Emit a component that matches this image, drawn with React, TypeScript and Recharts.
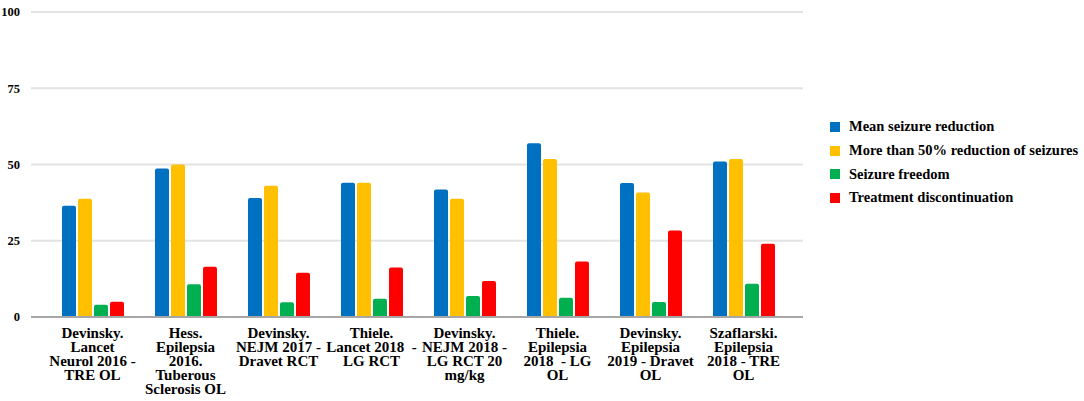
import { BarChart, Bar, XAxis, YAxis, CartesianGrid, Legend } from "recharts"

const studies = [
  "Devinsky.\nLancet\nNeurol 2016 -\nTRE OL",
  "Hess.\nEpilepsia\n2016.\nTuberous\nSclerosis OL",
  "Devinsky.\nNEJM 2017 -\nDravet RCT",
  "Thiele.\nLancet 2018  -\nLG RCT",
  "Devinsky.\nNEJM 2018 -\nLG RCT 20\nmg/kg",
  "Thiele.\nEpilepsia\n2018  - LG\nOL",
  "Devinsky.\nEpilepsia\n2019 - Dravet\nOL",
  "Szaflarski.\nEpilepsia\n2018 - TRE\nOL",
]

const meanReduction = [36.5, 48.7, 39, 44, 41.8, 57, 43.9, 51]
const over50 = [38.8, 50, 43, 44, 38.8, 51.8, 40.8, 51.8]
const seizureFreedom = [4, 10.7, 4.8, 6, 6.9, 6.3, 4.9, 10.9]
const discontinuation = [5, 16.5, 14.5, 16.2, 11.8, 18.2, 28.4, 24]

const yTicks = [0, 25, 50, 75, 100]

const series = [
  { key: "mean", name: "Mean seizure reduction", color: "#0070c0" },
  { key: "over50", name: "More than 50% reduction of seizures", color: "#ffc000" },
  { key: "freedom", name: "Seizure freedom", color: "#00b050" },
  { key: "discont", name: "Treatment discontinuation", color: "#ff0000" },
]

const data = studies.map((study, i) => ({
  study,
  mean: meanReduction[i],
  over50: over50[i],
  freedom: seizureFreedom[i],
  discont: discontinuation[i],
}))

const font = "Liberation Serif, Times New Roman, serif"

function StudyTick({ x, y, payload }: any) {
  const lines = String(payload.value).split("\n")
  return (
    <text
      x={x}
      y={y + 13}
      textAnchor="middle"
      style={{ fontFamily: font, fontWeight: 700, fontSize: 15 }}
      fill="#000"
    >
      {lines.map((l, i) => (
        <tspan key={i} x={x} dy={i === 0 ? 0 : 14} style={{ whiteSpace: "pre" }}>
          {l}
        </tspan>
      ))}
    </text>
  )
}

function LegendBox() {
  return (
    <div style={{ fontFamily: font, fontWeight: 700, fontSize: 14.5, color: "#000" }}>
      {series.map((s) => (
        <div key={s.key} style={{ display: "flex", alignItems: "center", height: 23.7 }}>
          <span
            style={{ width: 10, height: 10, background: s.color, display: "inline-block", marginRight: 9 }}
          />
          <span>{s.name}</span>
        </div>
      ))}
    </div>
  )
}

export default function App() {
  return (
    <div style={{ position: "absolute", left: 0, top: 0, background: "#fff" }}>
      <BarChart
        width={1084}
        height={401}
        data={data}
        margin={{ top: 12, right: 281, bottom: 0, left: 0 }}
        barCategoryGap={16}
        barGap={2}
      >
        <CartesianGrid vertical={false} stroke="#e3e3e3" strokeWidth={2} />
        <XAxis
          dataKey="study"
          interval={0}
          height={84}
          tickLine={false}
          axisLine={{ stroke: "#a6a6a6", strokeWidth: 2 }}
          padding={{ left: 15, right: 13 }}
          tick={<StudyTick />}
        />
        <YAxis
          width={31}
          domain={[0, 100]}
          ticks={yTicks}
          axisLine={false}
          tickLine={false}
          tick={{ style: { fontFamily: font, fontWeight: 700, fontSize: 12.5 }, fill: "#000" }}
          tickMargin={5}
        />
        <Legend
          layout="horizontal"
          verticalAlign="middle"
          align="center"
          content={<LegendBox />}
          wrapperStyle={{ left: 830, top: 115, width: 254 }}
        />
        {series.map((s) => (
          <Bar
            key={s.key}
            dataKey={s.key}
            name={s.name}
            fill={s.color}
            radius={[2, 2, 0, 0]}
            isAnimationActive={false}
          />
        ))}
      </BarChart>
    </div>
  )
}
